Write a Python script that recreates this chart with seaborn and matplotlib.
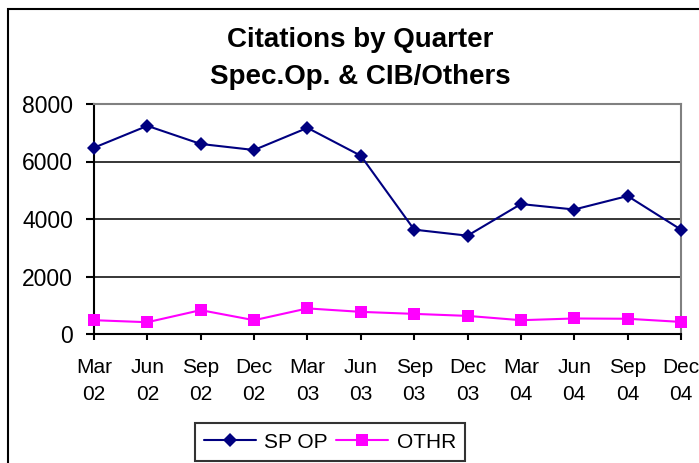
#!/usr/bin/env python3
"""
Line chart of citations by quarter (Spec.Op. vs CIB/Others)
"""

import numpy as np
import pandas as pd
import matplotlib
matplotlib.use("Agg")
import matplotlib.pyplot as plt
import matplotlib.patches as mpatches
import seaborn as sns

# data
quarters = ["Mar\n02", "Jun\n02", "Sep\n02", "Dec\n02",
            "Mar\n03", "Jun\n03", "Sep\n03", "Dec\n03",
            "Mar\n04", "Jun\n04", "Sep\n04", "Dec\n04"]
sp_op = [6480, 7240, 6610, 6400, 7170, 6200, 3630, 3420, 4520, 4330, 4800, 3630]
othr = [480, 410, 830, 480, 890, 770, 700, 630, 480, 540, 530, 420]
series_names = ["SP OP", "OTHR"]
series_colors = ["#000080", "#FF00FF"]
y_ticks = [0, 2000, 4000, 6000, 8000]

sns.set_style("white")
plt.rcParams["font.family"] = ["Liberation Sans", "DejaVu Sans"]
plt.rcParams["text.color"] = "black"
plt.rcParams["xtick.color"] = "black"
plt.rcParams["ytick.color"] = "black"

df = pd.DataFrame({"pos": np.arange(len(quarters)), "SP OP": sp_op, "OTHR": othr})
long_df = df.melt(id_vars="pos", var_name="series", value_name="citations")

fig = plt.figure(figsize=(6.99, 4.63), dpi=100)
ax = fig.add_axes([94 / 699, 1 - 334 / 463, (681 - 94) / 699, (334 - 104) / 463])

sns.lineplot(data=long_df, x="pos", y="citations", hue="series",
             hue_order=series_names, palette=series_colors,
             style="series", style_order=series_names,
             markers={"SP OP": "D", "OTHR": "s"}, dashes=False,
             markersize=8, markeredgewidth=0, linewidth=1.5,
             legend=False, ax=ax)
# diamond is a bit smaller than the squares
ax.lines[0].set_markersize(7.2)
for ln in ax.lines:
    ln.set_clip_on(False)
    ln.set_zorder(3)

ax.set_xlim(0, len(quarters) - 1)
ax.set_ylim(0, 8000)
ax.set_yticks(y_ticks)
ax.set_yticklabels([str(v) for v in y_ticks])
ax.set_xticks(np.arange(len(quarters)))
ax.set_xticklabels(quarters, linespacing=1.55)
ax.set_xlabel("")
ax.set_ylabel("")

for v in y_ticks[1:-1]:
    ax.axhline(v, color="black", lw=1.1, zorder=0)

ax.spines["left"].set_color("black")
ax.spines["bottom"].set_color("black")
ax.spines["left"].set_linewidth(1.5)
ax.spines["bottom"].set_linewidth(1.5)
ax.spines["top"].set_color("#808080")
ax.spines["right"].set_color("#808080")
ax.spines["top"].set_linewidth(1.5)
ax.spines["right"].set_linewidth(1.5)

ax.tick_params(axis="y", direction="out", length=6, width=1.5, pad=9,
               labelsize=16.5, left=True, color="black", labelcolor="black")
ax.tick_params(axis="x", direction="out", length=4, width=1.5, pad=13,
               labelsize=15, bottom=True, color="black", labelcolor="black")

fig.text(360 / 699, 1 - 40 / 463, "Citations by Quarter", ha="center",
         va="center", fontsize=20, fontweight="bold", color="black")
fig.text(360 / 699, 1 - 77 / 463, "Spec.Op. & CIB/Others", ha="center",
         va="center", fontsize=20, fontweight="bold", color="black")

handles = [
    plt.Line2D([], [], color=series_colors[0], marker="D", markersize=7.2,
               markeredgewidth=0, lw=1.5),
    plt.Line2D([], [], color=series_colors[1], marker="s", markersize=8,
               markeredgewidth=0, lw=1.5),
]
leg = fig.legend(handles, series_names, loc="center",
                 bbox_to_anchor=(330 / 699, 1 - 442 / 463), ncol=2,
                 fontsize=15, frameon=True, fancybox=False, edgecolor="black",
                 handlelength=2.5, handletextpad=0.4, columnspacing=0.4,
                 borderpad=0.45)
leg.get_frame().set_linewidth(1.5)
for t in leg.get_texts():
    t.set_color("black")

# outer chart border (right and bottom edges fall outside the image)
fig.patches.append(mpatches.Rectangle((8 / 699, -0.1), 1.2, 1.1 - 9 / 463,
                                      transform=fig.transFigure, fill=False,
                                      edgecolor="black", lw=1.5))

fig.savefig("out.png", dpi=100)
plt.close(fig)
